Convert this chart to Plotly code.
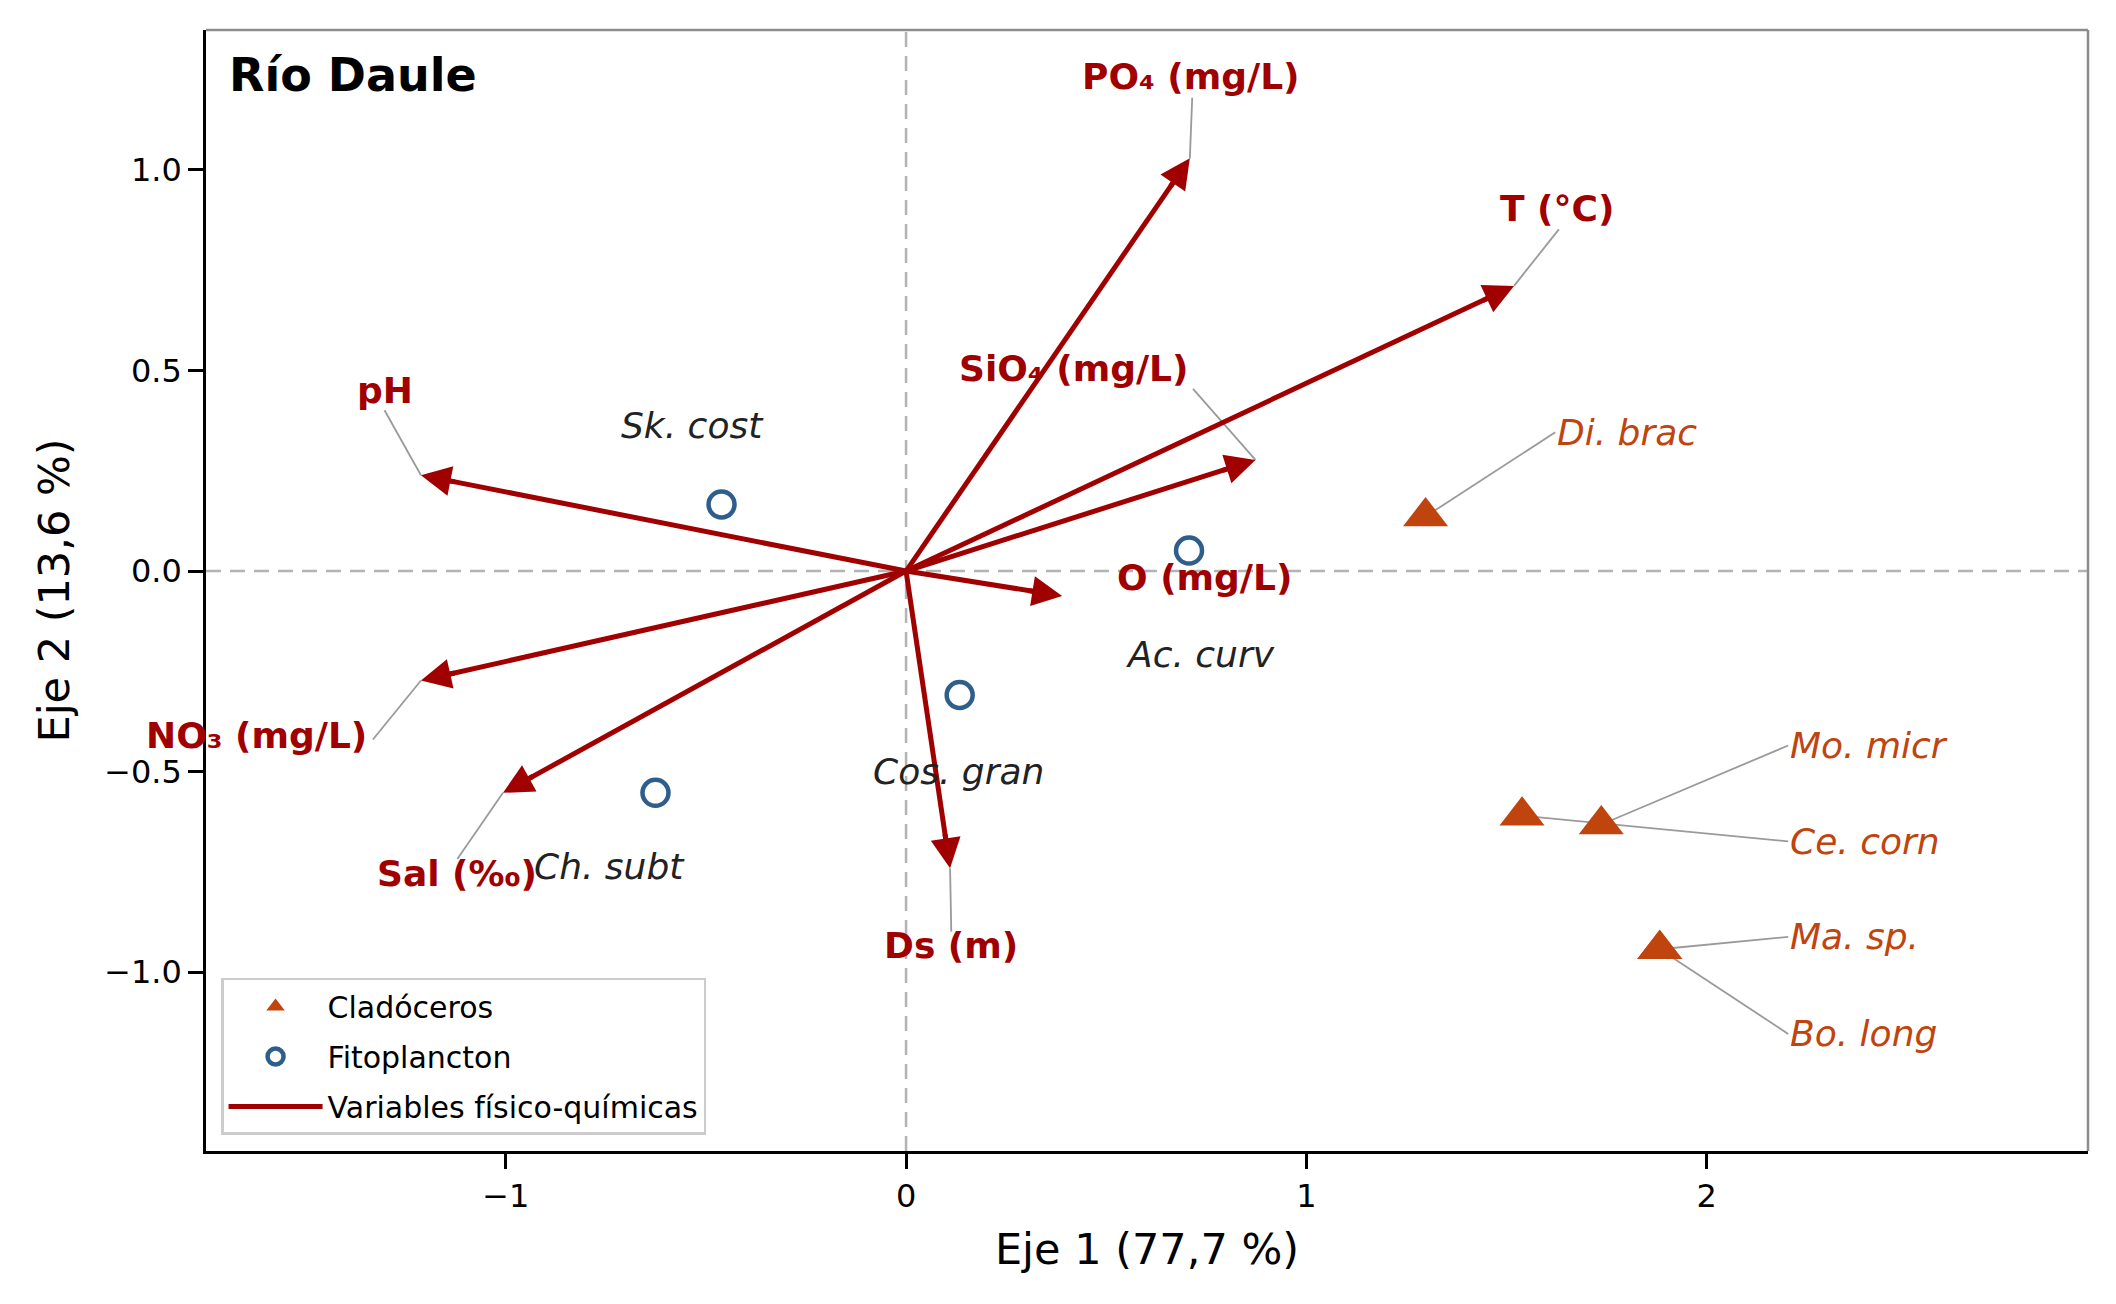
import math
import plotly.graph_objects as go

# ejes
x_range = [-1.749, 2.953]
y_range = [-1.446, 1.349]
x_ticks = [-1, 0, 1, 2]
x_ticktext = ["−1", "0", "1", "2"]
y_ticks = [-1.0, -0.5, 0.0, 0.5, 1.0]
y_ticktext = ["−1.0", "−0.5", "0.0", "0.5", "1.0"]

# variables físico-químicas (punta de cada flecha)
var_names = ["PO₄ (mg/L)", "T (°C)", "SiO₄ (mg/L)", "pH",
             "O (mg/L)", "NO₃ (mg/L)", "Sal (‰)", "Ds (m)"]
var_x = [0.709, 1.519, 0.873, -1.212, 0.390, -1.212, -1.007, 0.110]
var_y = [1.029, 0.711, 0.277, 0.239, -0.062, -0.273, -0.553, -0.741]
var_lab_x = [0.713, 1.627, 0.419, -1.303, 0.746, -1.622, -1.123, 0.112]
var_lab_y = [1.233, 0.904, 0.506, 0.449, -0.015, -0.411, -0.754, -0.933]
var_lead_x = [0.715, 1.631, 0.717, -1.303, None, -1.332, -1.121, 0.113]
var_lead_y = [1.180, 0.852, 0.454, 0.401, None, -0.420, -0.718, -0.899]

# fitoplancton
phyto_names = ["Sk. cost", "Ac. curv", "Cos. gran", "Ch. subt"]
phyto_x = [-0.461, 0.707, 0.134, -0.626]
phyto_y = [0.166, 0.051, -0.309, -0.553]
phyto_lab_x = [-0.533, 0.736, 0.130, -0.741]
phyto_lab_y = [0.362, -0.209, -0.501, -0.736]

# cladóceros
clado_names = ["Di. brac", "Ce. corn", "Mo. micr", "Ma. sp.", "Bo. long"]
clado_x = [1.298, 1.539, 1.737, 1.883, 1.883]
clado_y = [0.136, -0.610, -0.632, -0.943, -0.943]
clado_lab_x = [1.622, 2.204, 2.204, 2.204, 2.204]
clado_lab_y = [0.346, -0.674, -0.435, -0.912, -1.154]

RED = "#a00000"
ORANGE = "#c0440e"
BLUE = "#2e5e8c"
GREY = "#9a9a9a"
FONT = "DejaVu Sans"

W, H = 2116, 1304
ML, MR, MT, MB = 206, 28, 30, 153
px_x = (W - ML - MR) / (x_range[1] - x_range[0])
px_y = (H - MT - MB) / (y_range[1] - y_range[0])

fig = go.Figure()

# líneas guía de etiquetas
lx, ly = [], []
for tx, ty, ex, ey in zip(var_x, var_y, var_lead_x, var_lead_y):
    if ex is None:
        continue
    lx += [tx, ex, None]
    ly += [ty, ey, None]
for cx, cy, ex, ey in zip(clado_x, clado_y, clado_lab_x, clado_lab_y):
    lx += [cx, ex, None]
    ly += [cy, ey, None]
fig.add_trace(go.Scatter(x=lx, y=ly, mode="lines", line=dict(color=GREY, width=1.8),
                         showlegend=False, hoverinfo="skip"))

# astiles de las flechas (terminan antes de la punta)
sx, sy = [], []
for tx, ty in zip(var_x, var_y):
    L = math.hypot(tx * px_x, ty * px_y)
    f = 1 - 14 / L
    sx += [0, tx * f, None]
    sy += [0, ty * f, None]
fig.add_trace(go.Scatter(x=sx, y=sy, mode="lines", line=dict(color=RED, width=5),
                         name="Variables físico-químicas", legendrank=3,
                         legendgroup="c", hoverinfo="skip"))

fig.add_trace(go.Scatter(x=phyto_x, y=phyto_y, mode="markers", name="Fitoplancton",
                         marker=dict(symbol="circle-open", size=26, color=BLUE,
                                     line=dict(width=4.5)),
                         legendrank=2, legendgroup="b", text=phyto_names))
fig.add_trace(go.Scatter(x=clado_x, y=clado_y, mode="markers", name="Cladóceros",
                         marker=dict(symbol="triangle-up", size=39, color=ORANGE,
                                     line=dict(width=0)),
                         legendrank=1, legendgroup="a", text=clado_names))

annotations = []
# puntas de flecha
for tx, ty in zip(var_x, var_y):
    L = math.hypot(tx * px_x, ty * px_y)
    ux, uy = tx * px_x / L, ty * px_y / L
    annotations.append(dict(x=tx, y=ty, xref="x", yref="y", text="", showarrow=True,
                            ax=-ux * 36, ay=uy * 36, arrowhead=2, arrowsize=1.2,
                            arrowwidth=5, arrowcolor=RED, standoff=0))
for name, x, y in zip(var_names, var_lab_x, var_lab_y):
    annotations.append(dict(x=x, y=y, xref="x", yref="y", text="<b>" + name + "</b>",
                            showarrow=False, font=dict(family=FONT, size=36, color=RED),
                            xanchor="center", yanchor="middle"))
for name, x, y in zip(phyto_names, phyto_lab_x, phyto_lab_y):
    annotations.append(dict(x=x, y=y, xref="x", yref="y", text="<i>" + name + "</i>",
                            showarrow=False, font=dict(family=FONT, size=36, color="#222222"),
                            xanchor="center", yanchor="middle"))
for name, x, y in zip(clado_names, clado_lab_x, clado_lab_y):
    annotations.append(dict(x=x, y=y, xref="x", yref="y", text="<i>" + name + "</i>",
                            showarrow=False, font=dict(family=FONT, size=36, color=ORANGE),
                            xanchor="left", yanchor="middle"))
annotations.append(dict(x=0.011, y=0.96, xref="paper", yref="paper",
                        text="<b>Río Daule</b>", showarrow=False,
                        font=dict(family=FONT, size=46, color="black"),
                        xanchor="left", yanchor="middle"))

shapes = [
    dict(type="line", xref="x", yref="paper", x0=0, x1=0, y0=0, y1=1, layer="below",
         line=dict(color="#b3b3b3", width=2.5, dash="15px,9px")),
    dict(type="line", xref="paper", yref="y", x0=0, x1=1, y0=0, y1=0, layer="below",
         line=dict(color="#b3b3b3", width=2.5, dash="15px,9px")),
    dict(type="line", xref="paper", yref="paper", x0=0, x1=1, y0=1, y1=1,
         line=dict(color="#8c8c8c", width=2.5)),
    dict(type="line", xref="paper", yref="paper", x0=1, x1=1, y0=0, y1=1,
         line=dict(color="#8c8c8c", width=2.5)),
]

axis_common = dict(showgrid=False, zeroline=False, showline=True, linecolor="black",
                   linewidth=2.5, ticks="outside", ticklen=15, tickwidth=2.5,
                   tickcolor="black", tickfont=dict(family=FONT, size=32, color="black"))

fig.update_layout(
    width=W, height=H,
    margin=dict(l=ML, r=MR, t=MT, b=MB),
    paper_bgcolor="white", plot_bgcolor="white",
    font=dict(family=FONT, color="black"),
    xaxis=dict(range=x_range, tickvals=x_ticks, ticktext=x_ticktext,
               title=dict(text="Eje 1 (77,7 %)", font=dict(size=43), standoff=20),
               **axis_common),
    yaxis=dict(range=y_range, tickvals=y_ticks, ticktext=y_ticktext,
               title=dict(text="Eje 2 (13,6 %)", font=dict(size=43), standoff=22),
               **axis_common),
    legend=dict(x=0.008, y=0.0143, xanchor="left", yanchor="bottom",
                bgcolor="white", bordercolor="#cccccc", borderwidth=2.5,
                font=dict(family=FONT, size=30), tracegroupgap=8, itemwidth=94),
    annotations=annotations,
    shapes=shapes,
)

fig.write_html("out.html", config={"displayModeBar": False},
               post_script="document.body.style.margin='0';")
